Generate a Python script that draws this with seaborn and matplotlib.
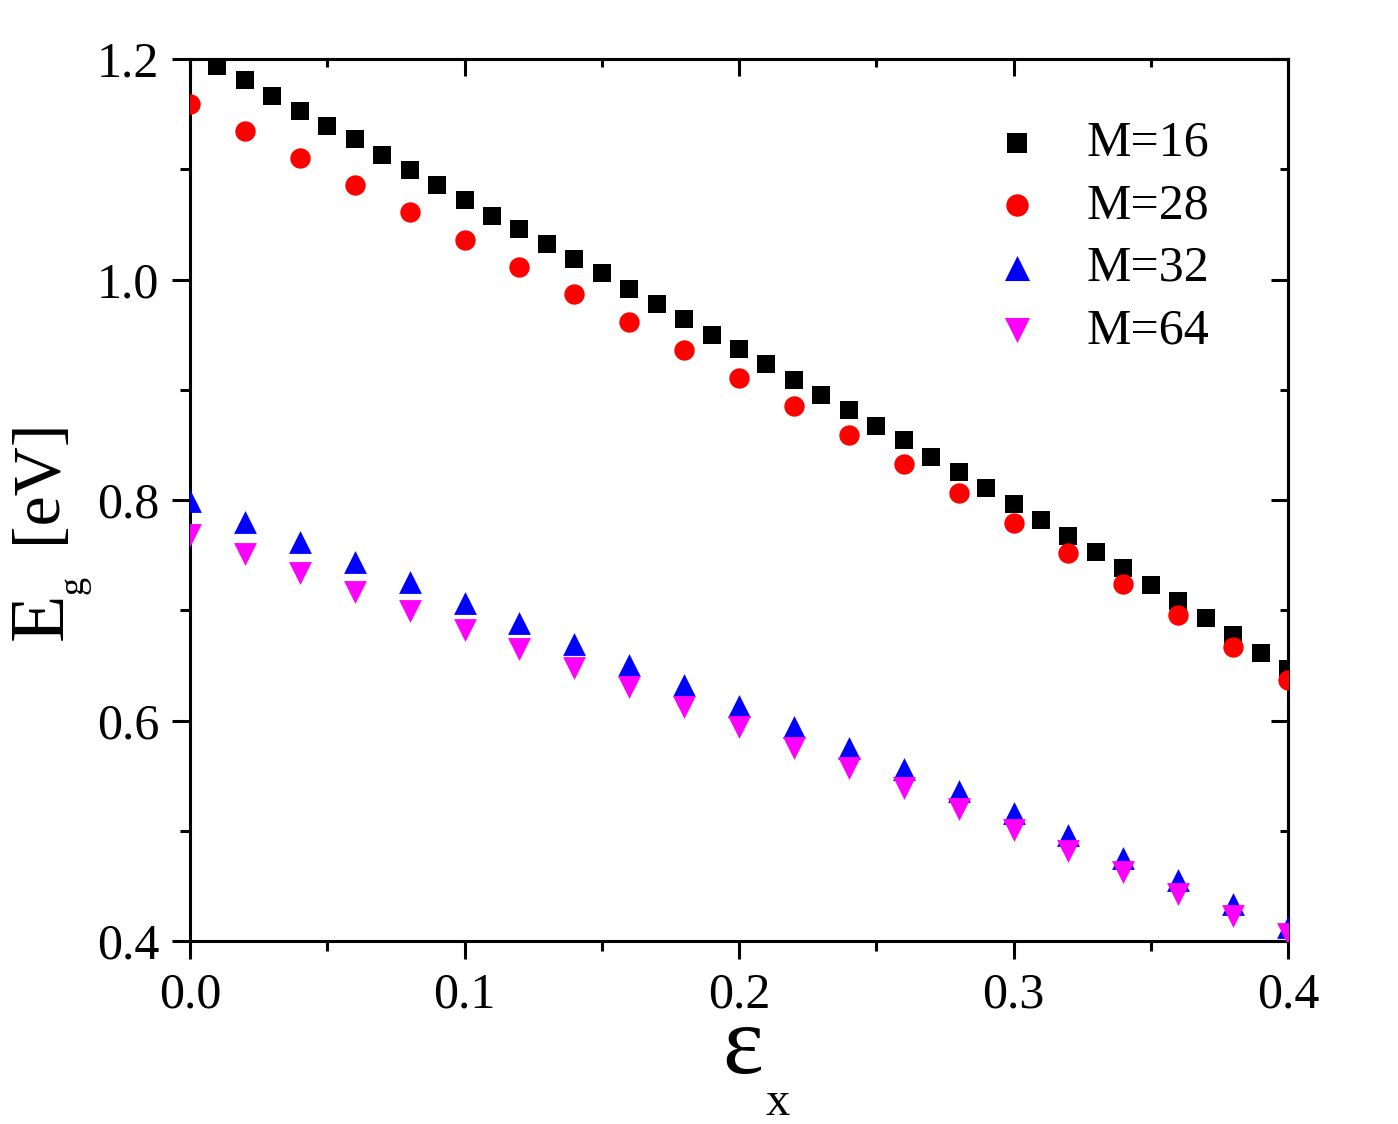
import numpy as np
import pandas as pd
import matplotlib
matplotlib.use("Agg")
import matplotlib.pyplot as plt
import seaborn as sns

# ---- data ----
strain_16 = [0.00, 0.01, 0.02, 0.03, 0.04, 0.05, 0.06, 0.07, 0.08, 0.09, 0.10,
             0.11, 0.12, 0.13, 0.14, 0.15, 0.16, 0.17, 0.18, 0.19, 0.20,
             0.21, 0.22, 0.23, 0.24, 0.25, 0.26, 0.27, 0.28, 0.29, 0.30,
             0.31, 0.32, 0.33, 0.34, 0.35, 0.36, 0.37, 0.38, 0.39, 0.40]
eg_16 = [1.206, 1.194, 1.181, 1.166, 1.153, 1.139, 1.127, 1.113, 1.099, 1.086, 1.072,
         1.058, 1.046, 1.032, 1.019, 1.006, 0.991, 0.978, 0.964, 0.950, 0.937,
         0.923, 0.909, 0.895, 0.882, 0.867, 0.854, 0.839, 0.825, 0.811, 0.796,
         0.782, 0.767, 0.753, 0.738, 0.723, 0.708, 0.693, 0.678, 0.661, 0.647]

strain_even = [0.00, 0.02, 0.04, 0.06, 0.08, 0.10, 0.12, 0.14, 0.16, 0.18, 0.20,
               0.22, 0.24, 0.26, 0.28, 0.30, 0.32, 0.34, 0.36, 0.38, 0.40]
eg_28 = [1.159, 1.135, 1.110, 1.086, 1.061, 1.036, 1.011, 0.987, 0.961, 0.936, 0.911,
         0.885, 0.859, 0.833, 0.806, 0.779, 0.752, 0.724, 0.696, 0.667, 0.637]
eg_32 = [0.799, 0.780, 0.762, 0.744, 0.726, 0.707, 0.688, 0.669, 0.650, 0.632, 0.613,
         0.594, 0.575, 0.556, 0.536, 0.516, 0.496, 0.475, 0.455, 0.434, 0.413]
eg_64 = [0.768, 0.751, 0.734, 0.717, 0.699, 0.682, 0.665, 0.648, 0.630, 0.612, 0.594,
         0.575, 0.557, 0.539, 0.520, 0.501, 0.482, 0.463, 0.443, 0.423, 0.406]

series_labels = ["M=16", "M=28", "M=32", "M=64"]
x_ticks = [0.0, 0.1, 0.2, 0.3, 0.4]
y_ticks = [0.4, 0.6, 0.8, 1.0, 1.2]

# ---- style ----
sns.set_style("ticks")
plt.rcParams["font.family"] = ["Liberation Serif", "DejaVu Serif"]
plt.rcParams["mathtext.fontset"] = "custom"
plt.rcParams["mathtext.rm"] = "Liberation Serif"
plt.rcParams["mathtext.it"] = "Liberation Serif:italic"
plt.rcParams["text.color"] = "black"
plt.rcParams["axes.labelcolor"] = "black"

W, H = 1398, 1124
fig = plt.figure(figsize=(W / 100, H / 100), dpi=100)
ax = fig.add_axes([190 / W, 1 - 941 / H, 1098 / W, 882 / H])

frames = [
    (strain_16, eg_16, series_labels[0], "s", "black", 165),
    (strain_even, eg_28, series_labels[1], "o", "red", 215),
    (strain_even, eg_32, series_labels[2], "^", "blue", 270),
    (strain_even, eg_64, series_labels[3], "v", "magenta", 270),
]
for i, (xs, ys, lab, mk, col, sz) in enumerate(frames):
    df = pd.DataFrame({"strain": xs, "Eg": ys})
    sns.scatterplot(data=df, x="strain", y="Eg", ax=ax, marker=mk, color=col,
                    s=sz, linewidth=0, label=lab, zorder=3 + i)

ax.set_xlim(0.0, 0.4)
ax.set_ylim(0.4, 1.2)
ax.set_xticks(x_ticks)
ax.set_xticklabels([f"{v:.1f}" for v in x_ticks])
ax.set_yticks(y_ticks)
ax.set_yticklabels([f"{v:.1f}" for v in y_ticks])
ax.set_xticks(np.arange(0.05, 0.4, 0.1), minor=True)
ax.set_yticks(np.arange(0.5, 1.2, 0.2), minor=True)

for sp in ax.spines.values():
    sp.set_linewidth(2.2)
    sp.set_color("black")

ax.tick_params(which="both", direction="out", width=2.2, top=False, right=False,
               labelsize=36, pad=9, colors="black")
ax.tick_params(which="major", length=13)
ax.tick_params(which="minor", length=7)

# mirrored inward ticks on top / right
secx = ax.secondary_xaxis("top")
secx.set_xticks(x_ticks)
secx.set_xticks(np.arange(0.05, 0.4, 0.1), minor=True)
secx.tick_params(which="both", direction="in", width=2.2, labeltop=False, colors="black")
secx.tick_params(which="major", length=12)
secx.tick_params(which="minor", length=6)
secx.spines["top"].set_linewidth(2.2)
secy = ax.secondary_yaxis("right")
secy.set_yticks(y_ticks)
secy.set_yticks(np.arange(0.5, 1.2, 0.2), minor=True)
secy.tick_params(which="both", direction="in", width=2.2, labelright=False, colors="black")
secy.tick_params(which="major", length=12)
secy.tick_params(which="minor", length=6)
secy.spines["right"].set_linewidth(2.2)

ax.set_xlabel("")
ax.set_ylabel("")

# x axis label: epsilon with subscript x
fig.text(742 / W, 1 - 1073 / H, r"$\mathrm{ε}$", fontsize=70, ha="center", va="baseline")
fig.text(765 / W, 1 - 1115 / H, r"$\mathrm{x}$", fontsize=35, ha="left", va="baseline")

# y axis label: E_g [eV] (rotated)
rot = dict(rotation=90, rotation_mode="anchor", ha="left", va="baseline")
fig.text(62 / W, 1 - 640 / H, "E", fontsize=56, **rot)
fig.text(82 / W, 1 - 594 / H, "g", fontsize=26, **rot)
fig.text(55 / W, 1 - 543 / H, "[eV]", fontsize=49, **rot)

leg = ax.legend(loc="upper left", bbox_to_anchor=(0.712, 0.953), borderaxespad=0,
                frameon=False, fontsize=36, handlelength=1.0, handletextpad=0.9,
                labelspacing=0.32, markerscale=1.1)
for t in leg.get_texts():
    t.set_color("black")

fig.savefig("out.png", dpi=100)
